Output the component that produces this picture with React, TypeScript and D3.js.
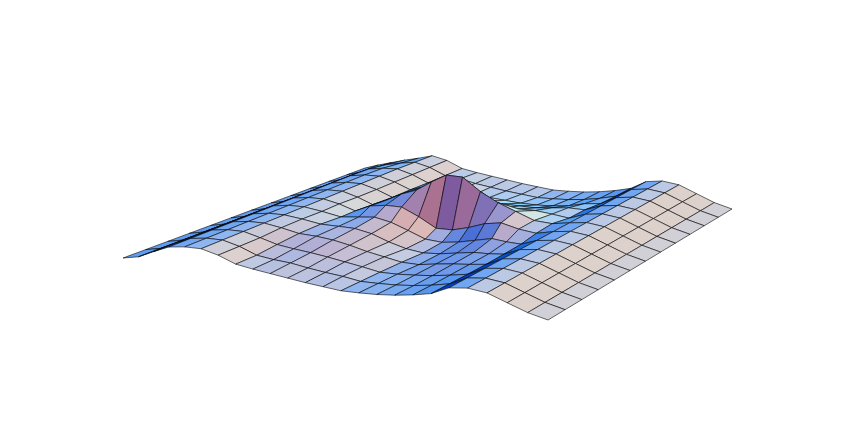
import React, { useMemo } from "react";
import * as d3 from "d3";

// Surface heights, one row per v-step (front to back), one value per u-step.
const row00 = [0, 3.5, 11, 18, 20.5, 21, 17, 10.5, 8, 6, 4, 2, 0.5, -1, -0.5, 0.5, 2.5, 5.5, 9.5, 18, 20.5, 18.5, 11.5, 4.5, 0];
const row01 = [0, 3.5, 11, 18, 20.5, 21, 17, 10.5, 8.5, 7.5, 5, 3, 1.5, -1, -0.5, 0.5, 2.5, 5.5, 9.5, 18, 20.5, 18.5, 11.5, 4.5, 0];
const row02 = [0, 3.5, 11, 18, 20.5, 21, 17, 12.5, 10.5, 9, 7, 4.5, 2, -1, -0.5, 1, 3, 6, 9.5, 18, 20.5, 18.5, 11.5, 4.5, 0];
const row03 = [0, 3.5, 11, 18, 20.5, 21, 18.5, 15, 14.5, 13, 10, 6, 3, 0, 0, 3, 5.5, 7.5, 10, 18, 20.5, 18.5, 11.5, 4.5, 0];
const row04 = [0, 3.5, 11, 18, 20.5, 21, 19, 16, 16, 16, 13, 7, 2.5, 0.5, 2, 5, 8, 9, 11, 18, 20.5, 18.5, 11.5, 4.5, 0];
const row05 = [0, 3.5, 11, 18, 20.5, 21, 18.5, 15, 17, 19, 16, 10, 3.5, 2.5, 5, 9, 13, 12, 12, 18, 20.5, 18.5, 11.5, 4.5, 0];
const row06 = [0, 3.5, 11, 18, 20.5, 21, 18, 13, 20, 22.7, 23, 15.5, 6, 6.5, 11, 17, 20, 16, 14, 18, 20.5, 18.5, 11.5, 4.5, 0];
const row07 = [0, 3.5, 11, 18, 20.5, 21, 17, 11.5, 18, 26, 32, 42, 51, 51, 38.5, 29.5, 23, 16, 15, 18, 20.5, 18.5, 11.5, 4.5, 0];
const row08 = [0, 3.5, 11, 18, 20.5, 21, 17, 11, 18, 20, 18, 17, 16, 14, 14, 15, 15.5, 14, 12, 18, 20.5, 18.5, 11.5, 4.5, 0];
const row09 = [0, 3.5, 11, 18, 20.5, 21, 17, 11, 16, 14, 12, 11, 9, 8, 8, 8, 10, 12, 12, 18, 20.5, 18.5, 11.5, 4.5, 0];
const row10 = [0, 3.5, 11, 17.5, 20, 21, 17, 10.5, 14, 8, 4, 3, 2, 1, 1, 2, 4, 8, 10, 18, 20.5, 18.5, 11.5, 4.5, 0];
const row11 = [0, 4, 9.5, 15, 18, 20.5, 17, 10.5, 9, 6, 4, 2, 0.5, -1, -0.5, 0.5, 2.5, 5.5, 9.5, 18, 20.5, 18.5, 11.5, 4.5, 0];
const row12 = [0, 4.5, 8.5, 12.5, 16, 20, 17, 10.5, 8, 6, 4, 2, 0.5, -1, -0.5, 0.5, 2.5, 5.5, 9.5, 18, 20.5, 18.5, 11.5, 4.5, 0];
const heightRows = [row00, row01, row02, row03, row04, row05, row06, row07, row08, row09, row10, row11, row12];

// Sideways pull of the mesh around the peak: amount per row, weight per column.
const rowPull = [0, 0, 0, 3, 6, 7, 0, -2, 0, 0, 0, 0, 0];
const columnPull = [0, 0, 0, 0, 0, 0, 0.3, 0.7, 1, 1, 1, 1, 1, 1, 1, 1, 1, 0.6, 0.2, 0, 0, 0, 0, 0, 0];

const nu = row00.length - 1;
const nv = heightRows.length - 1;

// Camera: the four ground corners on screen and the foreshortening along each axis.
const cornerA: [number, number] = [123, 258];
const cornerB: [number, number] = [548, 320];
const cornerC: [number, number] = [732, 209];
const cornerD: [number, number] = [365, 168];
const uFore = -0.0046;
const vFore = 0.0105;
const lean = -0.12;

const uScale = (i: number) => ((i / nu) * (1 + uFore * nu)) / (1 + uFore * i);
const vScale = (j: number) => ((j / nv) * (1 + vFore * nv)) / (1 + vFore * j);

function project(i: number, j: number): [number, number] {
  const f = uScale(i);
  const g = vScale(j);
  const left = d3.interpolateArray(cornerA, cornerD)(g) as number[];
  const right = d3.interpolateArray(cornerB, cornerC)(g) as number[];
  const x = left[0] + (right[0] - left[0]) * f;
  const y = left[1] + (right[1] - left[1]) * f;
  const z = heightRows[j][i];
  return [x + lean * z + rowPull[j] * columnPull[i], y - z];
}

// Three coloured lights in the surface's lighting space.
const flatNormal = [-0.07, 0.43, 0.9];
const uAxis = [0.84, -0.5, 0.2];
const vAxis = [0.37, 0.9, -0.4];
const uRise = 0.07;
const uFall = 0.1286;
const uSoft = 7;
const vGain = 0.05;
const vSoft = 16.4;
const frontWeight = 0.65;

function shade(su: number, sv: number): string {
  const tu = su > 0 ? uRise * su * (1 + (su / 9) ** 3) : (uFall * su) / (1 + Math.abs(su) / uSoft);
  const tv = (vGain * sv) / (1 + Math.abs(sv) / vSoft);
  const n = flatNormal.map((c, k) => c - tu * uAxis[k] - tv * vAxis[k]);
  const len = Math.hypot(n[0], n[1], n[2]);
  const [x, y, z] = n.map((c) => c / len);
  const clamp = d3.scaleLinear().domain([0, 1]).range([0, 255]).clamp(true);
  const r = clamp((x + z) / Math.SQRT2);
  const g = clamp((x + y + z) / Math.sqrt(3));
  const b = clamp((y + z) / Math.SQRT2);
  return d3.rgb(r, g, b).formatHex();
}

export default function App() {
  const cells = useMemo(() => {
    const path = d3.line<[number, number]>().curve(d3.curveLinearClosed);
    const out: { d: string; fill: string; key: string }[] = [];
    for (let j = nv - 1; j >= 0; j--) {
      for (let i = 0; i < nu; i++) {
        const z = heightRows;
        const su = (z[j][i + 1] - z[j][i]) * frontWeight + (z[j + 1][i + 1] - z[j + 1][i]) * (1 - frontWeight);
        const sv = (z[j + 1][i] - z[j][i] + z[j + 1][i + 1] - z[j][i + 1]) / 2;
        out.push({
          key: `${i}-${j}`,
          d: path([project(i, j), project(i + 1, j), project(i + 1, j + 1), project(i, j + 1)]) || "",
          fill: shade(su, sv),
        });
      }
    }
    return out;
  }, []);
  return (
    <svg width={850} height={441} style={{ position: "absolute", left: 0, top: 0, background: "#fff" }}>
      {cells.map((c) => (
        <path key={c.key} d={c.d} fill={c.fill} stroke="#000" strokeOpacity={0.78} strokeWidth={0.75} strokeLinejoin="round" />
      ))}
    </svg>
  );
}
